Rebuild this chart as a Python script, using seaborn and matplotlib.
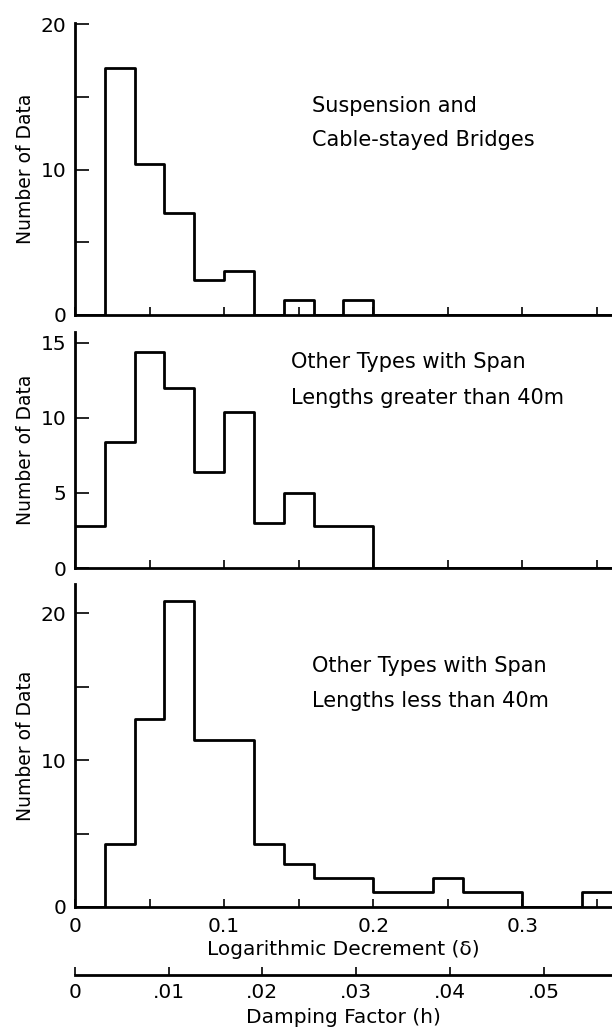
import numpy as np
import pandas as pd
import matplotlib
matplotlib.use("Agg")
import matplotlib.pyplot as plt
import seaborn as sns

# bin edges of the logarithmic decrement (0.02 wide)
edges = np.round(np.arange(0, 0.3601, 0.02), 2)
centers = edges[:-1] + 0.01

# counts
suspension = [0, 17, 10.4, 7, 2.4, 3, 0, 1, 0, 1, 0, 0, 0, 0, 0, 0, 0, 0]
long_span = [2.8, 8.4, 14.4, 12, 6.4, 10.4, 3, 5, 2.8, 2.8, 0, 0, 0, 0, 0, 0, 0, 0]
short_span = [0, 4.3, 12.8, 20.8, 11.4, 11.4, 4.3, 2.9, 2, 2, 1, 1, 2, 1, 1, 0, 0, 1]

panel_text = [["Suspension and", "Cable-stayed Bridges"],
              ["Other Types with Span", "Lengths greater than 40m"],
              ["Other Types with Span", "Lengths less than 40m"]]
text_pos = [(0.159, 14.4, 12.05), (0.145, 13.7, 11.3), (0.159, 16.4, 14.0)]

x_ticks = [0, 0.05, 0.1, 0.15, 0.2, 0.25, 0.3, 0.35]
x_labels = ["0", "", "0.1", "", "0.2", "", "0.3", ""]
h_ticks = [0, 0.01, 0.02, 0.03, 0.04, 0.05]
h_labels = ["0", ".01", ".02", ".03", ".04", ".05"]

sns.set_style("ticks", {"text.color": "black", "axes.labelcolor": "black",
                        "xtick.color": "black", "ytick.color": "black",
                        "axes.edgecolor": "black"})
plt.rcParams["font.family"] = ["DejaVu Sans"]
plt.rcParams["font.size"] = 14

fig = plt.figure(figsize=(6.12, 10.29), dpi=100)
boxes = [[0.1225, 0.6939, 0.8775, 0.284],
         [0.1225, 0.448, 0.8775, 0.229],
         [0.1225, 0.1186, 0.8775, 0.314]]
ylims = [20.1, 15.7, 22]
yticks = [[0, 5, 10, 15, 20], [0, 5, 10, 15], [0, 5, 10, 15, 20]]
ylabels = [["0", "", "10", "", "20"], ["0", "5", "10", "15"], ["0", "", "10", "", "20"]]

for i, counts in enumerate([suspension, long_span, short_span]):
    ax = fig.add_axes(boxes[i])
    df = pd.DataFrame({"delta": centers, "n": counts})
    sns.histplot(data=df, x="delta", weights="n", binwidth=0.02, binrange=(0, 0.36),
                 element="step", fill=False, color="black", linewidth=2.0, ax=ax)
    ax.set_xlim(0, 0.36)
    ax.set_ylim(0, ylims[i])
    sns.despine(ax=ax)
    for s in ["left", "bottom"]:
        ax.spines[s].set_linewidth(2.0)
    ax.set_yticks(yticks[i])
    ax.set_yticklabels(ylabels[i])
    ax.set_xticks(x_ticks)
    ax.tick_params(axis="y", direction="in", length=10, width=1.2, pad=6, labelsize=14.5)
    ax.tick_params(axis="x", direction="in", length=6, width=1.2, pad=7, labelsize=14.5)
    ax.set_ylabel("Number of Data", fontsize=13.5, labelpad=4)
    x0, y1, y2 = text_pos[i]
    ax.text(x0, y1, panel_text[i][0], va="center", fontsize=15)
    ax.text(x0, y2, panel_text[i][1], va="center", fontsize=15)
    if i < 2:
        ax.set_xticklabels([])
        ax.set_xlabel("")
    else:
        ax.set_xticklabels(x_labels)
        ax.set_xlabel("Logarithmic Decrement (δ)", fontsize=14.5, labelpad=3)
        sec = ax.secondary_xaxis(-0.21, functions=(lambda d: d / (2 * np.pi),
                                                    lambda h: h * 2 * np.pi))
        sec.set_xticks(h_ticks)
        sec.set_xticklabels(h_labels)
        sec.spines["bottom"].set_linewidth(2.0)
        sec.tick_params(axis="x", direction="in", length=6, width=1.2, pad=6, labelsize=14.5)
        sec.set_xlabel("Damping Factor (h)", fontsize=14.5, labelpad=4)

fig.savefig("out.png", dpi=100)
